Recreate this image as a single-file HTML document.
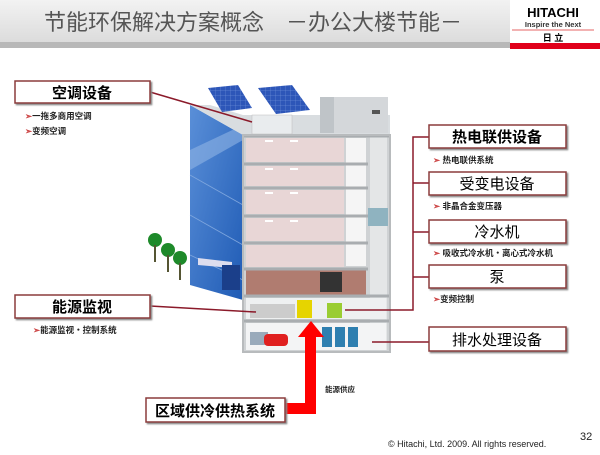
<!DOCTYPE html>
<html><head><meta charset="utf-8"><style>
body{margin:0;width:600px;height:450px;overflow:hidden;background:#fff;font-family:"Liberation Sans","Noto Sans CJK SC",sans-serif;}
</style></head><body>
<svg width="600" height="450" xmlns="http://www.w3.org/2000/svg" font-family="Liberation Sans, Noto Sans CJK SC, sans-serif">
<defs>
<linearGradient id="tb" x1="0" y1="0" x2="0" y2="1"><stop offset="0" stop-color="#f2f2f2"/><stop offset="1" stop-color="#dcdcdc"/></linearGradient>
<linearGradient id="gl" x1="0" y1="0" x2="1" y2="1"><stop offset="0" stop-color="#5a8fd8"/><stop offset="1" stop-color="#1f5bb5"/></linearGradient>
<pattern id="pv" width="5" height="5" patternUnits="userSpaceOnUse"><rect width="5" height="5" fill="#2d56b8"/><path d="M0 0H5M0 0V5" stroke="#7d9ce0" stroke-width="0.5"/></pattern>
<filter id="sh"><feDropShadow dx="1.5" dy="1.5" stdDeviation="0.8" flood-color="#888"/></filter>
</defs>
<!-- title -->
<rect x="0" y="0" width="510" height="42" fill="url(#tb)"/>
<rect x="0" y="42" width="510" height="6" fill="#b8b8b8"/>
<rect x="510" y="0" width="90" height="43" fill="#fff"/>
<rect x="510" y="43" width="90" height="6" fill="#e0001a"/>
<text x="44" y="30" font-size="22" fill="#555">节能环保解决方案概念　－办公大楼节能－</text>
<text x="553" y="17" font-size="13" font-weight="bold" text-anchor="middle" fill="#000">HITACHI</text>
<text x="553" y="27" font-size="7.5" font-weight="bold" text-anchor="middle" fill="#333">Inspire the Next</text>
<line x1="512" y1="30" x2="594" y2="30" stroke="#d33" stroke-width="0.7"/>
<text x="553" y="41" font-size="9" font-weight="bold" text-anchor="middle" fill="#000">日 立</text>

<!-- building -->
<polygon points="190,105 243,135 243,300 190,285" fill="url(#gl)"/>
<polygon points="190,150 243,125 243,140 190,170" fill="#8fb4e4" opacity="0.6"/>
<line x1="190" y1="175" x2="243" y2="205" stroke="#7ea6de" stroke-width="0.8"/>
<line x1="190" y1="215" x2="243" y2="245" stroke="#7ea6de" stroke-width="0.8"/>
<line x1="190" y1="255" x2="243" y2="280" stroke="#7ea6de" stroke-width="0.8"/>
<polygon points="190,105 243,135 390,135 390,115 243,115 210,105" fill="#d9dde0"/>
<rect x="320" y="97" width="68" height="36" fill="#d4d7da"/>
<rect x="320" y="97" width="14" height="36" fill="#bfc4c8"/>
<rect x="372" y="110" width="8" height="4" fill="#555"/>
<rect x="252" y="115" width="40" height="19" fill="#e9ecee" stroke="#bbb" stroke-width="0.5"/>
<polygon points="208,88 238,85 252,108 222,112" fill="url(#pv)"/>
<polygon points="258,88 292,85 310,110 276,114" fill="url(#pv)"/>
<rect x="243" y="135" width="147" height="217" fill="#cfd2d4"/>
<g fill="#e8d6d6">
<rect x="246" y="138" width="98" height="24"/><rect x="246" y="166" width="98" height="20"/>
<rect x="246" y="190" width="98" height="24"/><rect x="246" y="218" width="98" height="23"/>
<rect x="246" y="245" width="98" height="22"/></g>
<g fill="#fff"><rect x="265" y="140" width="8" height="2"/><rect x="290" y="140" width="8" height="2"/><rect x="265" y="168" width="8" height="2"/><rect x="290" y="168" width="8" height="2"/><rect x="265" y="192" width="8" height="2"/><rect x="290" y="192" width="8" height="2"/><rect x="265" y="220" width="8" height="2"/><rect x="290" y="220" width="8" height="2"/></g>
<g fill="#f5f5f5"><rect x="346" y="138" width="20" height="128"/></g>
<rect x="246" y="270" width="120" height="25" fill="#b07c70"/>
<rect x="320" y="272" width="22" height="20" fill="#333"/>
<rect x="370" y="137" width="17" height="213" fill="#e4e6e7"/>
<rect x="368" y="208" width="20" height="18" fill="#8fb3c0"/>
<g stroke="#a9adb0" stroke-width="3">
<line x1="243" y1="136" x2="390" y2="136"/><line x1="243" y1="164" x2="368" y2="164"/><line x1="243" y1="188" x2="368" y2="188"/>
<line x1="243" y1="216" x2="368" y2="216"/><line x1="243" y1="243" x2="368" y2="243"/><line x1="243" y1="269" x2="368" y2="269"/>
<line x1="243" y1="296" x2="390" y2="296"/><line x1="243" y1="321" x2="390" y2="321"/></g>
<rect x="246" y="298" width="140" height="21" fill="#eef0f1"/>
<rect x="246" y="323" width="140" height="27" fill="#f3f4f5"/>
<rect x="250" y="304" width="45" height="14" fill="#ccc"/>
<rect x="297" y="300" width="15" height="18" fill="#e6d400"/>
<rect x="327" y="303" width="15" height="15" fill="#9acd32"/>
<rect x="250" y="332" width="18" height="13" fill="#9ab"/>
<rect x="264" y="334" width="24" height="12" rx="4" fill="#e02020"/>
<rect x="322" y="327" width="10" height="20" fill="#2e7fb0"/><rect x="335" y="327" width="10" height="20" fill="#2e7fb0"/><rect x="348" y="327" width="10" height="20" fill="#2e7fb0"/>
<rect x="243" y="135" width="147" height="217" fill="none" stroke="#b8bbbd" stroke-width="2"/>
<!-- trees & canopy -->
<g fill="#1e8a2a"><circle cx="155" cy="240" r="7"/><circle cx="168" cy="250" r="7"/><circle cx="180" cy="258" r="7"/></g>
<g stroke="#553" stroke-width="2"><line x1="155" y1="245" x2="155" y2="262"/><line x1="168" y1="255" x2="168" y2="272"/><line x1="180" y1="263" x2="180" y2="280"/></g>
<polygon points="198,258 232,262 232,268 198,265" fill="#dde"/>
<rect x="222" y="265" width="18" height="25" fill="#1b3f8a"/>

<!-- connectors -->
<g stroke="#8b1a2a" stroke-width="1.5" fill="none">
<line x1="150" y1="92" x2="252" y2="122"/>
<line x1="150" y1="306" x2="256" y2="312"/>
<polyline points="429,137 413,137 413,310 345,310"/>
<line x1="413" y1="183" x2="429" y2="183"/>
<line x1="413" y1="232" x2="429" y2="232"/>
<line x1="413" y1="277" x2="429" y2="277"/>
<line x1="372" y1="342" x2="429" y2="342"/>
</g>
<!-- red arrow -->
<polygon points="285,403 305,403 305,337 298,337 311,321 324,337 316,337 316,414 285,414" fill="#f00"/>

<!-- boxes -->
<g fill="#fff" stroke="#8b3a3a" stroke-width="1.5" filter="url(#sh)">
<rect x="15" y="81" width="135" height="22"/>
<rect x="15" y="295" width="135" height="23"/>
<rect x="429" y="125" width="137" height="23"/>
<rect x="429" y="172" width="137" height="23"/>
<rect x="429" y="220" width="137" height="23"/>
<rect x="429" y="265" width="137" height="23"/>
<rect x="429" y="327" width="137" height="24"/>
<rect x="146" y="398" width="139" height="24"/>
</g>
<g font-size="15" text-anchor="middle" fill="#000">
<text x="82" y="98" font-weight="bold">空调设备</text>
<text x="82" y="312" font-weight="bold">能源监视</text>
<text x="497" y="142" font-weight="bold">热电联供设备</text>
<text x="497" y="189">受变电设备</text>
<text x="497" y="237">冷水机</text>
<text x="497" y="282">泵</text>
<text x="497" y="345">排水处理设备</text>
<text x="215" y="416" font-weight="bold">区域供冷供热系统</text>
</g>
<g font-size="8.5" font-weight="bold" fill="#222">
<text x="25" y="119"><tspan fill="#c44">➢</tspan>一拖多商用空调</text>
<text x="25" y="134"><tspan fill="#c44">➢</tspan>变频空调</text>
<text x="33" y="333"><tspan fill="#c44">➢</tspan>能源监视・控制系统</text>
<text x="433" y="163"><tspan fill="#c44">➢</tspan>  热电联供系统</text>
<text x="433" y="209"><tspan fill="#c44">➢</tspan>  非晶合金变压器</text>
<text x="433" y="256"><tspan fill="#c44">➢</tspan>  吸收式冷水机・离心式冷水机</text>
<text x="433" y="302"><tspan fill="#c44">➢</tspan>变频控制</text>
<text x="325" y="392" font-size="7.5">能源供应</text>
</g>
<text x="388" y="447" font-size="9" fill="#222">© Hitachi, Ltd. 2009. All rights reserved.</text>
<text x="580" y="440" font-size="11" fill="#222">32</text>
</svg>
</body></html>
